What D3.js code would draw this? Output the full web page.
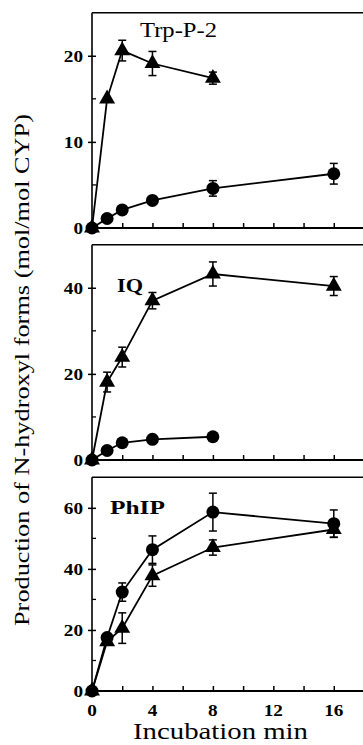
<!DOCTYPE html>
<html>
<head>
<meta charset="utf-8">
<script src="https://cdn.jsdelivr.net/npm/d3@7/dist/d3.min.js"></script>
<style>
  html, body { margin: 0; padding: 0; background: #fff; }
  svg { display: block; }
  text { font-family: "Liberation Serif", "Times New Roman", "Noto Sans", sans-serif; fill: #000; }
</style>
</head>
<body>
<div id="chart"></div>
<script>
// ---- Data ----
const panelNames = ["Trp-P-2", "IQ", "PhIP"];
const panelBold = [false, true, true];
const yDomains = [25, 50, 70];
const yMajorTicks = [[0, 10, 20], [0, 20, 40], [0, 20, 40, 60]];
const yMinorTicks = [[5, 15], [10, 30], [10, 30, 50]];
const xTickLabels = [0, 4, 8, 12, 16];
const xAllTicks = [0, 2, 4, 6, 8, 10, 12, 14, 16];

// Trp-P-2
const trpTriTimes = [0, 1, 2, 4, 8];
const trpTriVals  = [0, 15.0, 20.6, 19.1, 17.4];
const trpTriErr   = [0, 0, 1.2, 1.4, 0.7];
const trpCirTimes = [0, 1, 2, 4, 8, 16];
const trpCirVals  = [0, 1.1, 2.1, 3.2, 4.6, 6.3];
const trpCirErr   = [0, 0, 0, 0, 0.9, 1.2];

// IQ
const iqTriTimes = [0, 1, 2, 4, 8, 16];
const iqTriVals  = [0, 18.1, 23.9, 37.0, 43.2, 40.4];
const iqTriErr   = [0, 2.3, 2.3, 1.9, 2.8, 2.2];
const iqCirTimes = [0, 1, 2, 4, 8];
const iqCirVals  = [0, 2.2, 4.0, 4.8, 5.4];
const iqCirErr   = [0, 0, 0, 0, 0];

// PhIP
const phTriTimes = [0, 1, 2, 4, 8, 16];
const phTriVals  = [0, 16.2, 20.6, 37.8, 47.0, 52.9];
const phTriErr   = [0, 0, 5.0, 3.5, 2.5, 2.5];
const phCirTimes = [0, 1, 2, 4, 8, 16];
const phCirVals  = [0, 17.5, 32.4, 46.3, 58.6, 54.8];
const phCirErr   = [0, 0, 3.0, 4.5, 6.2, 4.5];

const panelSeries = [
  { tri: [trpTriTimes, trpTriVals, trpTriErr], cir: [trpCirTimes, trpCirVals, trpCirErr] },
  { tri: [iqTriTimes, iqTriVals, iqTriErr],   cir: [iqCirTimes, iqCirVals, iqCirErr] },
  { tri: [phTriTimes, phTriVals, phTriErr],   cir: [phCirTimes, phCirVals, phCirErr] }
];

// ---- Layout ----
const W = 363, H = 745;
const plotLeft = 92, plotRight = 364;
const panelTops = [12.7, 244.7, 477.3];
const panelBottoms = [228, 460, 691];
const labelPos = [[140, 37, 77], [117, 292, 26], [110, 514, 55]]; // x, baseline, width

const svg = d3.select("#chart").append("svg").attr("width", W).attr("height", H);

const x = d3.scaleLinear().domain([0, 18]).range([plotLeft, plotRight]);

function stretch(sel, sx) {
  sel.each(function () {
    const len = this.getComputedTextLength();
    d3.select(this).attr("textLength", len * sx).attr("lengthAdjust", "spacingAndGlyphs");
  });
}

const zip = (s) => s[0].map((t, i) => ({ t, v: s[1][i], e: s[2][i] }));

panelNames.forEach((name, p) => {
  const y = d3.scaleLinear().domain([0, yDomains[p]]).range([panelBottoms[p], panelTops[p]]);
  const g = svg.append("g");

  // frame: left axis, top border
  g.append("line").attr("x1", plotLeft).attr("x2", plotLeft)
    .attr("y1", panelTops[p]).attr("y2", panelBottoms[p]).attr("stroke", "#000").attr("stroke-width", 1.6);
  g.append("line").attr("x1", plotLeft).attr("x2", W)
    .attr("y1", panelTops[p]).attr("y2", panelTops[p]).attr("stroke", "#000").attr("stroke-width", 1.4);

  // x axis with inward ticks
  const xAxis = d3.axisTop(x).tickValues(xAllTicks).tickSize(5).tickFormat("");
  const xa = g.append("g").attr("transform", `translate(0,${panelBottoms[p]})`).call(xAxis);
  xa.select(".domain").remove();
  xa.selectAll(".tick line").attr("stroke-width", 1.5);
  g.append("line").attr("x1", plotLeft).attr("x2", W)
    .attr("y1", panelBottoms[p]).attr("y2", panelBottoms[p]).attr("stroke", "#000").attr("stroke-width", 2);

  // y axis major ticks (crossing) and labels
  const yAxis = d3.axisLeft(y).tickValues(yMajorTicks[p]).tickSize(4).tickPadding(5).tickFormat(d3.format("d"));
  const ya = g.append("g").attr("transform", `translate(${plotLeft},0)`).call(yAxis);
  ya.select(".domain").remove();
  ya.selectAll(".tick line").attr("x2", -4).attr("x1", 4).attr("stroke-width", 1.5);
  ya.selectAll(".tick text")
    .attr("font-weight", "bold").attr("font-size", 16)
    .attr("x", -9).attr("dy", "0.34em")
    .call(stretch, 1.2);
  // minor y ticks (inward)
  g.selectAll(".minor").data(yMinorTicks[p]).join("line")
    .attr("x1", plotLeft).attr("x2", plotLeft + 4)
    .attr("y1", d => y(d)).attr("y2", d => y(d)).attr("stroke", "#000").attr("stroke-width", 1.3);

  // panel label
  const lp = labelPos[p];
  g.append("text").attr("x", lp[0]).attr("y", lp[1])
    .attr("font-size", panelBold[p] ? 19 : 20).attr("font-weight", panelBold[p] ? "bold" : "normal")
    .attr("textLength", lp[2]).attr("lengthAdjust", "spacingAndGlyphs")
    .text(name);

  const line = d3.line().x(d => x(d.t)).y(d => y(d.v));
  const S = panelSeries[p];
  const tri = zip(S.tri), cir = zip(S.cir);

  [tri, cir].forEach(data => {
    g.append("path").datum(data).attr("d", line)
      .attr("fill", "none").attr("stroke", "#000").attr("stroke-width", 1.8);
  });

  // error bars
  [tri, cir].forEach(data => {
    const eb = g.append("g");
    data.filter(d => d.e > 0).forEach(d => {
      eb.append("line").attr("x1", x(d.t)).attr("x2", x(d.t))
        .attr("y1", y(d.v - d.e)).attr("y2", y(d.v + d.e)).attr("stroke", "#000").attr("stroke-width", 1.5);
      [d.v - d.e, d.v + d.e].forEach(v => {
        eb.append("line").attr("x1", x(d.t) - 4).attr("x2", x(d.t) + 4)
          .attr("y1", y(v)).attr("y2", y(v)).attr("stroke", "#000").attr("stroke-width", 1.5);
      });
    });
  });

  // markers
  g.selectAll(".cir").data(cir).join("circle")
    .attr("cx", d => x(d.t)).attr("cy", d => y(d.v)).attr("r", 6.5).attr("fill", "#000");
  const triSym = d3.symbol().type(d3.symbolTriangle).size(110);
  g.selectAll(".tri").data(tri).join("path")
    .attr("d", triSym).attr("transform", d => `translate(${x(d.t)},${y(d.v)})`).attr("fill", "#000");
});

// bottom x tick labels
svg.append("g").selectAll("text").data(xTickLabels).join("text")
  .attr("x", d => x(d)).attr("y", 716).attr("text-anchor", "middle")
  .attr("font-weight", "bold").attr("font-size", 16)
  .text(d => d)
  .call(stretch, 1.2);

// x axis title
svg.append("text").attr("x", 220.5).attr("y", 739).attr("text-anchor", "middle")
  .attr("font-size", 24).attr("textLength", 175).attr("lengthAdjust", "spacingAndGlyphs")
  .text("Incubation min");

// y axis title
svg.append("text").attr("transform", "translate(29,370) rotate(-90)")
  .attr("text-anchor", "middle").attr("font-size", 22)
  .attr("textLength", 512).attr("lengthAdjust", "spacingAndGlyphs")
  .text("Production of N-hydroxyl forms (mol/mol CYP)");
</script>
</body>
</html>
